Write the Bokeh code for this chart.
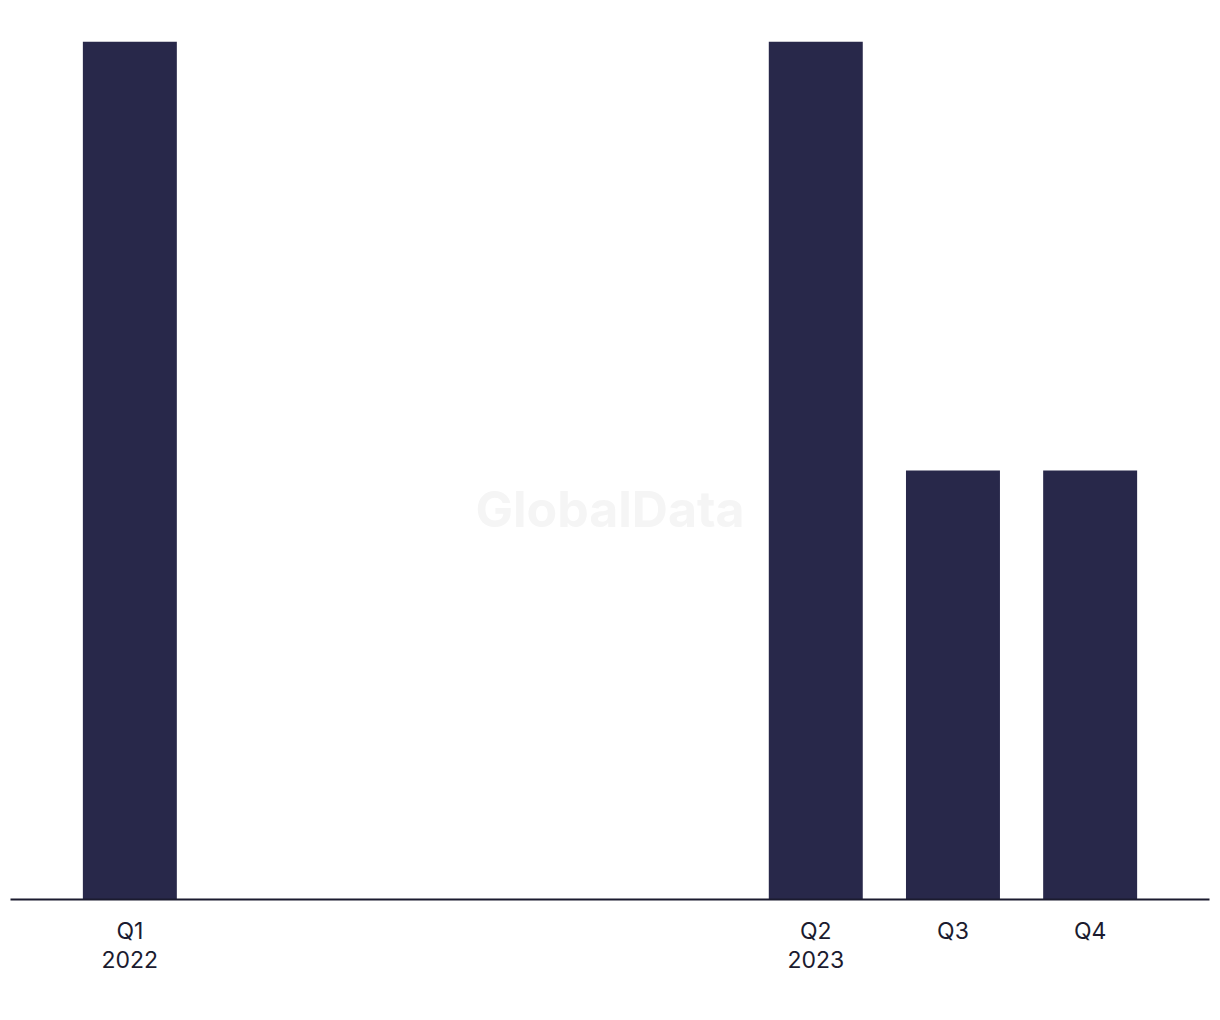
from bokeh.plotting import figure
from bokeh.models import Range1d, FixedTicker, Label, ColumnDataSource
from bokeh.embed import file_html
from bokeh.resources import INLINE

quarters = ["Q1", "Q2", "Q3", "Q4", "Q1", "Q2", "Q3", "Q4"]
years = ["2022", "", "", "", "", "2023", "", ""]
tick_labels = ["Q1\n2022", "Q2", "Q3", "Q4", "Q1", "Q2\n2023", "Q3", "Q4"]
values = [2, 0, 0, 0, 0, 2, 1, 1]

positions = list(range(len(values)))
# only show labels where there is data (as in the reference)
shown = [0, 5, 6, 7]

source = ColumnDataSource(dict(x=positions, top=values))

p = figure(width=1211, height=1000, output_backend="svg", toolbar_location=None,
           x_range=Range1d(-0.87, 7.87), y_range=Range1d(0, 2),
           min_border_left=10, min_border_right=2, min_border_top=41, min_border_bottom=101)
p.vbar(x="x", top="top", width=0.685, source=source, color="#28284a", line_color=None)

p.xgrid.visible = False
p.ygrid.visible = False
p.yaxis.visible = False
p.outline_line_color = None

ax = p.xaxis[0]
ax.ticker = FixedTicker(ticks=[positions[i] for i in shown])
ax.major_label_overrides = {positions[i]: tick_labels[i] for i in shown}
ax.major_tick_line_color = None
ax.minor_tick_line_color = None
ax.axis_line_color = "#1b1b2f"
ax.axis_line_width = 2
ax.major_label_text_font = "Inter"
ax.major_label_text_font_size = "23px"
ax.major_label_text_line_height = 1.05
ax.major_label_text_color = "#1b1b2f"
ax.major_label_standoff = 11

wm = Label(x=3.5, y=0.91, text="GlobalData", text_align="center", text_baseline="middle",
           text_font="Inter", text_font_style="bold", text_font_size="50px",
           text_color="#f5f5f5", level="underlay")
p.add_layout(wm)

open("out.html", "w").write(file_html(p, INLINE))
